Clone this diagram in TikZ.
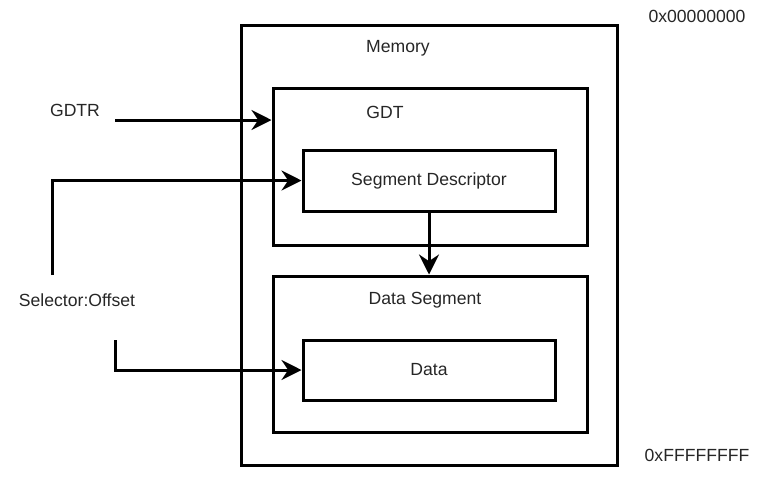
\documentclass[tikz,border=0pt]{standalone}
\usepackage{fontspec}
\setmainfont{Liberation Sans}
\usetikzlibrary{
    arrows.meta,
    positioning
}

\begin{document}
\begin{tikzpicture}[x=0.75pt,y=-0.75pt,
    every node/.style={font=\fontsize{13.2}{16}\selectfont,text=black!85},
    box/.style={draw=black,line width=2.25pt,rectangle,inner sep=0pt},
    conn/.style={line width=2.25pt,-{Stealth[length=15pt,width=15pt,inset=5pt]}}]
    \useasboundingbox (0,0) rectangle (778,476);
    \node[box,minimum width=282pt,minimum height=330pt] (memory) at (429,245) {};
    \node[box,minimum width=235.5pt,minimum height=117.75pt] (gdt) at (430,166.5) {};
    \node[box,minimum width=189pt,minimum height=45.75pt] (segdesc) at (429,180.5) {Segment Descriptor};
    \node[box,minimum width=235.5pt,minimum height=117pt] (dataseg) at (430,354) {};
    \node[box,minimum width=189pt,minimum height=45pt] (data) at (429,370) {Data};
    \node (memlabel) at (398,48) {Memory};
    \node (gdtlabel) at (385,112) {GDT};
    \node (dseglabel) at (425,300) {Data Segment};
    \node (gdtr) at (75,110) {GDTR};
    \node (selector) at (77,300) {Selector:Offset};
    \node (lowaddr) at (697,16) {0x00000000};
    \node (highaddr) at (697,455) {0xFFFFFFFF};
    \coordinate (gdtrsrc) at (115,120);
    \coordinate (selup) at (52,275);
    \coordinate (seldown) at (115,340);
    \draw[conn] (gdtrsrc) -- (gdtrsrc -| gdt.west);
    \draw[conn] (selup) |- (segdesc.west);
    \draw[conn] (seldown) |- (data.west);
    \draw[conn] (segdesc.south) -- (segdesc.south |- dataseg.north);
\end{tikzpicture}
\end{document}
